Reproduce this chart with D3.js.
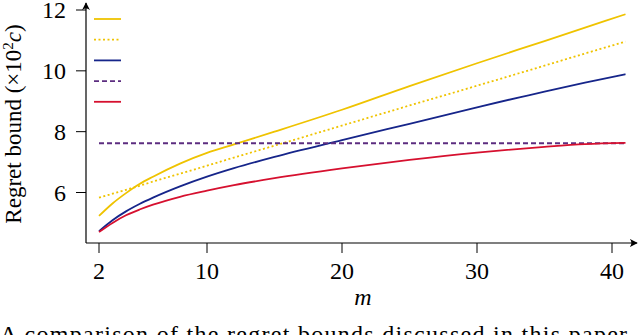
<!DOCTYPE html>
<html>
<head>
<meta charset="utf-8">
<script src="https://cdn.jsdelivr.net/npm/d3@7"></script>
<style>
  body { margin: 0; background: #fff; }
  svg { display: block; }
</style>
</head>
<body>
<svg width="640" height="335"></svg>
<script>
// values (regret bound, x10^2 c)
const mValues = [2, 3, 4, 5, 6, 8, 10, 12, 15, 20, 25, 30, 35, 38, 41];
const goldSolid = [5.23, 5.64, 5.98, 6.28, 6.52, 6.95, 7.30, 7.58, 8.00, 8.72, 9.50, 10.25, 10.98, 11.42, 11.86];
const goldDotted = [5.83, 5.96, 6.09, 6.22, 6.36, 6.62, 6.88, 7.15, 7.54, 8.20, 8.86, 9.51, 10.17, 10.57, 10.96];
const blue = [4.73, 5.09, 5.38, 5.62, 5.83, 6.20, 6.52, 6.80, 7.17, 7.72, 8.26, 8.80, 9.32, 9.61, 9.89];
const purpleDashed = [7.62, 7.62, 7.62, 7.62, 7.62, 7.62, 7.62, 7.62, 7.62, 7.62, 7.62, 7.62, 7.62, 7.62, 7.62];
const red = [4.70, 5.00, 5.25, 5.44, 5.60, 5.86, 6.06, 6.24, 6.47, 6.79, 7.07, 7.31, 7.50, 7.59, 7.63];

const xTicks = [2, 10, 20, 30, 40];
const yTicks = [6, 8, 10, 12];

const series = [
  { values: goldSolid, color: "#EFC300", dash: null },
  { values: goldDotted, color: "#EFC300", dash: "2,2.5" },
  { values: blue, color: "#16258A", dash: null },
  { values: purpleDashed, color: "#5C2D80", dash: "5,3" },
  { values: red, color: "#D6102F", dash: null }
];

const FONT = "Liberation Serif";

const svg = d3.select("svg");
const axisX = 86, axisY = 243;

const x = d3.scaleLinear().domain([2, 40]).range([99, 612]);
const y = d3.scaleLinear().domain([6, 12]).range([192.5, 10]);

// arrow marker
svg.append("defs").append("marker")
  .attr("id", "arrow")
  .attr("viewBox", "0 0 10 10")
  .attr("refX", 9).attr("refY", 5)
  .attr("markerWidth", 8).attr("markerHeight", 8)
  .attr("markerUnits", "userSpaceOnUse")
  .attr("orient", "auto")
  .append("path")
  .attr("d", "M0,0 Q4,5 0,10 L10,5 Z")
  .attr("fill", "#000");

const line = d3.line()
  .x((d, i) => x(mValues[i]))
  .y(d => y(d))
  .curve(d3.curveMonotoneX);

svg.append("g")
  .selectAll("path")
  .data(series)
  .enter().append("path")
  .attr("d", d => line(d.values))
  .attr("fill", "none")
  .attr("stroke", d => d.color)
  .attr("stroke-width", 1.8)
  .attr("stroke-dasharray", d => d.dash);

// axes
svg.append("line")
  .attr("x1", axisX).attr("y1", axisY)
  .attr("x2", axisX).attr("y2", 3)
  .attr("stroke", "#000").attr("stroke-width", 1.2)
  .attr("marker-end", "url(#arrow)");
svg.append("line")
  .attr("x1", axisX).attr("y1", axisY)
  .attr("x2", 637).attr("y2", axisY)
  .attr("stroke", "#000").attr("stroke-width", 1.2)
  .attr("marker-end", "url(#arrow)");

const xt = svg.append("g").selectAll("g").data(xTicks).enter().append("g");
xt.append("line")
  .attr("x1", d => x(d)).attr("x2", d => x(d))
  .attr("y1", axisY).attr("y2", axisY + 10)
  .attr("stroke", "#000").attr("stroke-width", 1);
xt.append("text")
  .attr("x", d => x(d)).attr("y", axisY + 36)
  .attr("text-anchor", "middle")
  .style("font-family", FONT)
  .style("font-size", "24px")
  .text(d => d);

const yt = svg.append("g").selectAll("g").data(yTicks).enter().append("g");
yt.append("line")
  .attr("x1", axisX - 10).attr("x2", axisX)
  .attr("y1", d => y(d)).attr("y2", d => y(d))
  .attr("stroke", "#000").attr("stroke-width", 1);
yt.append("text")
  .attr("x", axisX - 20).attr("y", d => y(d) + 8)
  .attr("text-anchor", "end")
  .style("font-family", FONT)
  .style("font-size", "24px")
  .text(d => d);

// axis titles
svg.append("text")
  .attr("x", 363).attr("y", 305)
  .attr("text-anchor", "middle")
  .style("font-family", FONT)
  .style("font-size", "24px")
  .style("font-style", "italic")
  .text("m");

const yl = svg.append("text")
  .attr("transform", "translate(21,124) rotate(-90)")
  .attr("text-anchor", "middle")
  .style("font-family", FONT)
  .style("font-size", "23px");
yl.append("tspan").text("Regret bound (×10");
yl.append("tspan").style("font-size", "15px").attr("dy", -8).text("2");
yl.append("tspan").attr("dy", 8).style("font-style", "italic").text("c");
yl.append("tspan").text(")");

// legend (line samples only)
svg.append("g").selectAll("line").data(series).enter().append("line")
  .attr("x1", 94).attr("x2", 121)
  .attr("y1", (d, i) => 19 + i * 20.7)
  .attr("y2", (d, i) => 19 + i * 20.7)
  .attr("stroke", d => d.color)
  .attr("stroke-width", 1.8)
  .attr("stroke-dasharray", d => d.dash);

// caption, cut off by the bottom edge as in the original
svg.append("text")
  .attr("x", 0).attr("y", 342)
  .style("font-family", FONT)
  .style("font-size", "24px")
  .attr("textLength", 650)
  .attr("lengthAdjust", "spacing")
  .text("A comparison of the regret bounds discussed in this paper, f");
</script>
</body>
</html>
